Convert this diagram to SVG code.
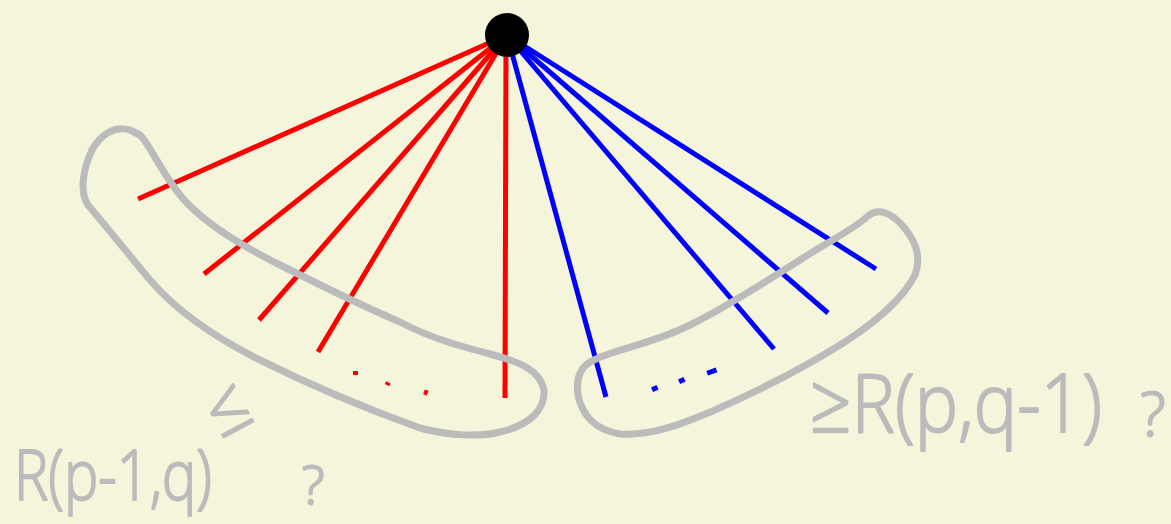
<svg xmlns="http://www.w3.org/2000/svg" width="1171" height="524" viewBox="0 0 1171 524">
<style>
.red{stroke:#ff0000;stroke-width:5;fill:none}
.blue{stroke:#0000ff;stroke-width:5;fill:none}
.blob{stroke:#bbbbbb;stroke-width:7;fill:none;stroke-linejoin:round;stroke-linecap:round}
.hand{fill:#bbbbbb;stroke:#bbbbbb;stroke-width:2;stroke-linejoin:round;font-family:"Open Sans","Liberation Sans",sans-serif;font-weight:300}
</style>
<rect width="1171" height="524" fill="#f5f5dc"/>
<g id="connectors">
<line class="red" x1="507" y1="35" x2="138" y2="199"/>
<line class="red" x1="507" y1="35" x2="204" y2="274"/>
<line class="red" x1="507" y1="35" x2="259" y2="320"/>
<line class="red" x1="507" y1="35" x2="318" y2="352"/>
<line class="red" x1="506" y1="40" x2="505" y2="398"/>
<line class="blue" x1="507" y1="35" x2="606" y2="397"/>
<line class="blue" x1="507" y1="35" x2="774" y2="349"/>
<line class="blue" x1="507" y1="35" x2="828" y2="313"/>
<line class="blue" x1="507" y1="35" x2="876" y2="269"/>
</g>
<g id="red-dots" fill="#ff0000">
<rect x="353" y="371" width="5" height="4"/>
<rect x="385" y="382" width="5" height="3" transform="rotate(25 387 384)"/>
<rect x="424" y="390" width="4" height="5" transform="rotate(20 426 392)"/>
</g>
<g id="blue-dots" fill="#0000ff">
<rect x="652" y="386" width="6" height="5" transform="rotate(-25 655 389)"/>
<rect x="679" y="378" width="6" height="5" transform="rotate(-25 682 381)"/>
<rect x="707" y="369" width="10" height="5" transform="rotate(-20 712 372)"/>
</g>
<g id="node-top"><circle cx="507" cy="35" r="22" fill="#000"/></g>
<g id="group-left">
<path class="blob" d="M130,130 C115,125 100,135 92,150 C85,165 78,190 88,205 C105,225 125,250 150,280 C180,315 220,340 260,360 C320,390 370,410 420,428 C450,436 480,437 500,432 C530,425 545,410 544,390 C540,370 520,362 490,354 C460,346 430,338 400,322 C360,305 320,285 280,265 C240,245 200,220 180,195 C160,170 150,145 140,135 Z"/>
</g>
<g id="group-right">
<path class="blob" d="M590,362 C580,368 576,380 578,395 C582,415 595,430 620,434 C650,436 680,425 715,410 C760,390 800,370 840,345 C880,320 905,295 915,275 C922,255 915,240 902,225 C890,212 878,208 868,216 C850,232 830,240 800,260 C760,285 730,305 690,325 C650,345 610,350 590,362 Z"/>
</g>
<g id="label-left">
<text class="hand" x="14" y="500" font-size="70" textLength="198" lengthAdjust="spacingAndGlyphs">R(p-1,q)</text>
<text class="hand" x="228" y="432" font-size="72" text-anchor="middle" transform="rotate(-28 228 410)">≤</text>
<text class="hand" x="313" y="504" font-size="54" text-anchor="middle">?</text>
</g>
<g id="label-right">
<text class="hand" x="810" y="432" font-size="82" textLength="292" lengthAdjust="spacingAndGlyphs">≥R(p,q-1)</text>
<text class="hand" x="1153" y="436" font-size="60" text-anchor="middle">?</text>
</g>
</svg>
